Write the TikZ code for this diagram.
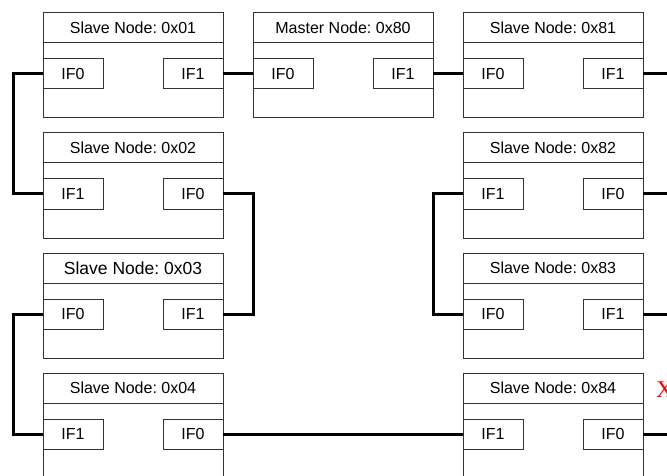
\documentclass[tikz,border=0pt]{standalone}
\usepackage{fontspec}
\setmainfont{Liberation Sans}
\newfontfamily\xserif{Liberation Serif}
\frenchspacing
\tikzset{
  x=1pt, y=-1pt,
  boxline/.style={draw=black!80, line width=1pt},
  nodebox/.style={boxline, fill=white, rectangle, minimum width=180pt, minimum height=105pt, inner sep=0pt, outer sep=0pt},
  headbox/.style={boxline, rectangle, minimum width=180pt, minimum height=30pt, inner sep=0pt, outer sep=0pt, font=\fontsize{16}{19}\selectfont\frenchspacing},
  ifbox/.style={boxline, fill=white, rectangle, minimum width=60pt, minimum height=30pt, inner sep=0pt, outer sep=0pt, font=\fontsize{16}{19}\selectfont},
  link/.style={draw=black, line width=3pt, line join=miter},
}
% #1 name, #2 left x, #3 top y, #4 title, #5 left label, #6 right label
\newcommand\mkdevnode[6]{%
  \node[nodebox] (#1) at (#2+90,#3+52.5) {};
  \node[headbox] (#1h) at (#2+90,#3+15) {#4};
  \node[ifbox] (#1a) at (#2+30,#3+61) {#5};
  \node[ifbox] (#1b) at (#2+150,#3+61) {#6};
}
\begin{document}
\begin{tikzpicture}
\useasboundingbox (0,0) rectangle (667,476);
\fill[white] (0,0) rectangle (667,476);
\clip (0,0) rectangle (667,476);

\mkdevnode{s01}{43}{13}{Slave Node: 0x01}{IF0}{IF1}
\mkdevnode{m80}{253}{13}{Master Node: 0x80}{IF0}{IF1}
\mkdevnode{s81}{463}{13}{Slave Node: 0x81}{IF0}{IF1}
\mkdevnode{s02}{43}{133}{Slave Node: 0x02}{IF1}{IF0}
\mkdevnode{s82}{463}{133}{Slave Node: 0x82}{IF1}{IF0}
\node[nodebox] (s03) at (133,305.5) {};
\node[headbox, font=\fontsize{17.5}{20}\selectfont\frenchspacing] (s03h) at (133,268) {Slave Node: 0x03};
\node[ifbox] (s03a) at (73,314) {IF0};
\node[ifbox] (s03b) at (193,314) {IF1};
\mkdevnode{s83}{463}{253}{Slave Node: 0x83}{IF0}{IF1}
\mkdevnode{s04}{43}{373}{Slave Node: 0x04}{IF1}{IF0}
\mkdevnode{s84}{463}{373}{Slave Node: 0x84}{IF1}{IF0}

\coordinate (e81) at (672,74);
\coordinate (e82) at (672,194);
\coordinate (e83) at (672,314);
\coordinate (e84) at (672,434);

\draw[link] (s01a.west) -- ++(-30,0) |- (s02a.west);
\draw[link] (s02b.east) -- ++(30,0) |- (s03b.east);
\draw[link] (s03a.west) -- ++(-30,0) |- (s04a.west);
\draw[link] (s04b.east) -- (s84a.west);
\draw[link] (s01b.east) -- (m80a.west);
\draw[link] (m80b.east) -- (s81a.west);
\draw[link] (s82a.west) -- ++(-30,0) |- (s83a.west);
\draw[link] (s81b.east) -- (e81);
\draw[link] (s82b.east) -- (e82);
\draw[link] (s83b.east) -- (e83);
\draw[link] (s84b.east) -- (e84);

\node[anchor=west, inner sep=0pt, text=red, font=\xserif\fontsize{24}{28}\selectfont] (xmark) at (656,390) {X};
\end{tikzpicture}
\end{document}
